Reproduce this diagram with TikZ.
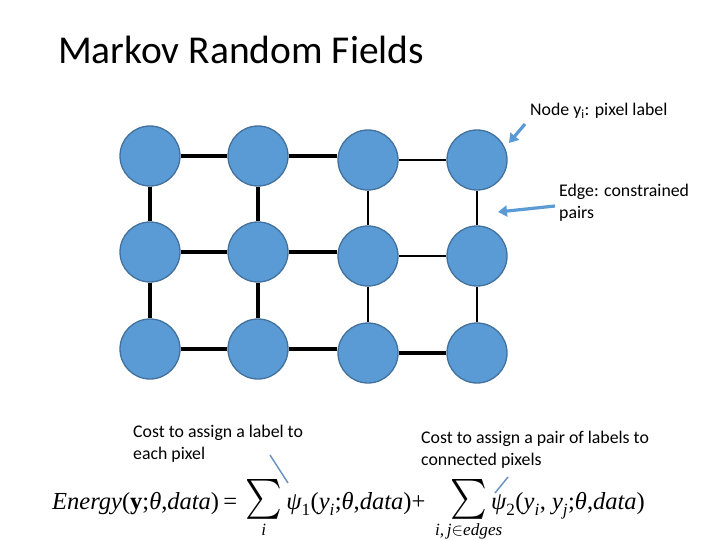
\documentclass[tikz,border=0pt]{standalone}
\usepackage{fontspec}
\setmainfont{Carlito}
\newfontfamily\eqfont{Liberation Serif}
\usepackage{amsmath}
\usetikzlibrary{arrows.meta}
\definecolor{nodefill}{HTML}{5B9BD5}
\definecolor{nodeline}{HTML}{41719C}
\definecolor{arrowblue}{HTML}{5B9BD5}
\definecolor{pointerblue}{HTML}{6A94C4}
\newcommand{\ei}[1]{\text{\eqfont\itshape #1}}
\newcommand{\er}[1]{\text{\eqfont #1}}
\newcommand{\bigsum}{\mathop{\raisebox{3pt}{$\vcenter{\hbox{\scalebox{1.4}[1.6]{$\textstyle\sum$}}}$}}\limits}
\newcommand{\zclap}[1]{\makebox[0pt]{$\scriptstyle #1$}}
\begin{document}
\begin{tikzpicture}[x=1pt,y=-1pt,
  mrf/.style={circle,fill=nodefill,draw=nodeline,line width=1.3pt,minimum size=60pt,inner sep=0pt},
  edge/.style={line width=3.4pt,black},
  thinedge/.style={line width=2.7pt,black},
  callout/.style={arrowblue,line width=3.2pt,-{Triangle[length=9pt,width=11pt]}},
  pointer/.style={pointerblue,line width=1.5pt},
  lbl/.style={font=\fontsize{17.8}{22}\selectfont,align=left,anchor=north west,inner sep=0pt}]
\useasboundingbox (0,0) rectangle (720,540);
\node[anchor=west,inner sep=0pt,font=\fontsize{39.5}{44}\selectfont] (title) at (58,50) {Markov Random Fields};
% nodes
\node[mrf] (a1) at (150,156) {};
\node[mrf] (a2) at (258,156) {};
\node[mrf] (a3) at (368,160) {};
\node[mrf] (a4) at (477,160) {};
\node[mrf] (b1) at (150,252) {};
\node[mrf] (b2) at (258,252) {};
\node[mrf] (b3) at (368,256) {};
\node[mrf] (b4) at (477,256) {};
\node[mrf] (c1) at (150,349) {};
\node[mrf] (c2) at (258,349) {};
\node[mrf] (c3) at (368,353) {};
\node[mrf] (c4) at (477,353) {};
% edges
\draw[edge] (a1) -- (a2);
\draw[edge] (a2.east) -- (a3.west |- a2.east);
\draw[thinedge] (a3) -- (a4);
\draw[edge] (b1) -- (b2);
\draw[edge] (b2.east) -- (b3.west |- b2.east);
\draw[thinedge] (b3) -- (b4);
\draw[edge] (c1) -- (c2);
\draw[edge] (c2.east) -- (c3.west |- c2.east);
\draw[edge] (c3) -- (c4);
\draw[edge] (a1) -- (b1);
\draw[edge] (b1) -- (c1);
\draw[edge] (a2) -- (b2);
\draw[edge] (b2) -- (c2);
\draw[thinedge] (a3) -- (b3);
\draw[thinedge] (b3) -- (c3);
\draw[thinedge] (a4) -- (b4);
\draw[thinedge] (b4) -- (c4);
% callouts
\node[lbl,anchor=west] (nodelbl) at (530,111) {Node y\textsubscript{i}: pixel label};
\coordinate (n1) at (525,124);
\coordinate (n2) at (509,143);
\draw[callout] (n1) -- (n2);
\node[lbl] (edgelbl) at (559,184) {Edge: constrained\\pairs};
\coordinate (e1) at (555,206);
\coordinate (e2) at (498,212);
\draw[callout] (e1) -- (e2);
% bottom labels
\node[lbl] (cost1) at (133,425) {Cost to assign a label to\\each pixel};
\node[lbl] (cost2) at (421,431) {Cost to assign a pair of labels to\\connected pixels};
% equation
\node[anchor=base west,inner sep=0pt,font=\fontsize{24.5}{28}\selectfont] (eq) at (52,509)
 {$\ei{Energy}\er{(}\text{\eqfont\bfseries y}\er{;}\ei{θ}\er{,}\ei{data}\er{)}\,\er{=}\, \bigsum_{\ei{i}}\ei{ψ}_{\er{1}}\er{(}\ei{y}_{\ei{i}}\er{;}\ei{θ}\er{,}\ei{data}\er{)}\er{+}\;\;\; \bigsum_{\zclap{\ei{i,}\,\ei{j}\in\ei{edges}}}\ei{ψ}_{\er{2}}\er{(}\ei{y}_{\ei{i}}\er{, }\ei{y}_{\ei{j}}\er{;}\ei{θ}\er{,}\ei{data}\er{)}$};
\coordinate (p1a) at (270,455);
\coordinate (p1b) at (288,483);
\draw[pointer] (p1a) -- (p1b);
\coordinate (p2a) at (508,477);
\coordinate (p2b) at (495,493);
\draw[pointer] (p2a) -- (p2b);
\end{tikzpicture}
\end{document}
